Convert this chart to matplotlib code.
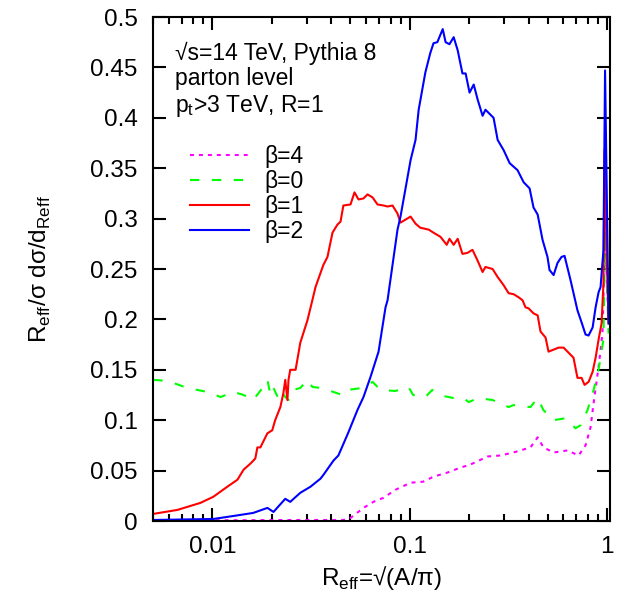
import numpy as np
import matplotlib
matplotlib.use("Agg")
import matplotlib.pyplot as plt
from matplotlib.ticker import FixedLocator, LogLocator, NullFormatter, FuncFormatter

plt.rcParams['font.family'] = ['Liberation Sans', 'DejaVu Sans']

# beta=4 (magenta, dotted)
x_b4 = [0.005, 0.0279, 0.0461, 0.0501, 0.0583, 0.0655, 0.0736, 0.0847, 0.101, 0.117,
        0.132, 0.155, 0.181, 0.203, 0.248, 0.288, 0.336, 0.409, 0.445, 0.476, 0.536,
        0.631, 0.717, 0.778, 0.825, 0.855, 0.906, 0.948, 0.977, 1.018]
y_b4 = [0.0005, 0.001, 0.001, 0.003, 0.013, 0.019, 0.023, 0.031, 0.038, 0.039,
        0.044, 0.048, 0.053, 0.056, 0.064, 0.065, 0.068, 0.073, 0.083, 0.073, 0.068,
        0.070, 0.065, 0.075, 0.093, 0.117, 0.153, 0.186, 0.280, 0.200]

# beta=0 (green, dashed)
x_b0 = [0.00502, 0.00592, 0.00747, 0.00944, 0.0110, 0.0128, 0.0144, 0.0161, 0.0181, 0.0190,
        0.0197, 0.0204, 0.0214, 0.0221, 0.0234, 0.0243, 0.0257, 0.0279, 0.0303, 0.0321,
        0.0353, 0.0383, 0.0456, 0.0483, 0.0575, 0.0648, 0.0711, 0.0847, 0.0986, 0.104,
        0.120, 0.130, 0.148, 0.167, 0.187, 0.199, 0.223, 0.263, 0.317, 0.336,
        0.409, 0.445, 0.476, 0.536, 0.616, 0.692, 0.734, 0.796, 0.855, 0.906,
        0.959, 0.977, 1.018]
y_b0 = [0.140, 0.139, 0.132, 0.128, 0.123, 0.128, 0.125, 0.120, 0.133, 0.140,
        0.125, 0.132, 0.123, 0.130, 0.123, 0.120, 0.130, 0.132, 0.140, 0.133,
        0.132, 0.130, 0.125, 0.130, 0.132, 0.138, 0.130, 0.129, 0.133, 0.125,
        0.123, 0.130, 0.124, 0.122, 0.122, 0.118, 0.122, 0.120, 0.113, 0.115,
        0.113, 0.122, 0.110, 0.100, 0.102, 0.092, 0.095, 0.110, 0.130, 0.150,
        0.180, 0.289, 0.186]

# beta=1 (red, solid)
x_b1 = [0.005, 0.00665, 0.0087, 0.0101, 0.0119, 0.0134, 0.0144, 0.0156, 0.0165, 0.0169,
        0.0175, 0.0190, 0.0201, 0.0208, 0.0221, 0.0229, 0.0234, 0.0240, 0.0243, 0.0248,
        0.0264, 0.0279, 0.0303, 0.0321, 0.0333, 0.0353, 0.0365, 0.0383, 0.0406, 0.0430,
        0.0446, 0.0461, 0.0501, 0.0525, 0.0550, 0.0583, 0.0611, 0.0648, 0.0687, 0.0736,
        0.0772, 0.0818, 0.0867, 0.0898, 0.0952, 0.101, 0.107, 0.113, 0.125, 0.132,
        0.143, 0.154, 0.159, 0.167, 0.175, 0.185, 0.196, 0.208, 0.220, 0.234,
        0.242, 0.263, 0.279, 0.299, 0.317, 0.336, 0.356, 0.373, 0.386, 0.400,
        0.424, 0.445, 0.460, 0.488, 0.505, 0.536, 0.568, 0.602, 0.638, 0.676,
        0.708, 0.743, 0.769, 0.806, 0.845, 0.875, 0.906, 0.938, 0.959, 0.971,
        0.994, 1.018]
y_b1 = [0.007, 0.011, 0.018, 0.024, 0.034, 0.041, 0.051, 0.057, 0.062, 0.073,
        0.073, 0.087, 0.090, 0.100, 0.113, 0.127, 0.140, 0.120, 0.140, 0.150,
        0.150, 0.177, 0.199, 0.219, 0.232, 0.246, 0.254, 0.262, 0.286, 0.294,
        0.297, 0.313, 0.314, 0.326, 0.319, 0.320, 0.324, 0.321, 0.314, 0.313,
        0.312, 0.313, 0.305, 0.296, 0.299, 0.302, 0.295, 0.291, 0.289, 0.286,
        0.282, 0.274, 0.280, 0.274, 0.280, 0.265, 0.266, 0.269, 0.259, 0.247,
        0.252, 0.250, 0.242, 0.234, 0.226, 0.225, 0.222, 0.219, 0.212, 0.211,
        0.206, 0.204, 0.188, 0.182, 0.168, 0.170, 0.172, 0.172, 0.167, 0.162,
        0.142, 0.142, 0.135, 0.138, 0.148, 0.162, 0.180, 0.196, 0.236, 0.368,
        0.269, 0.196]

# beta=2 (blue, solid)
x_b2 = [0.005, 0.0101, 0.0128, 0.0161, 0.0190, 0.0204, 0.0234, 0.0248, 0.0279, 0.0314,
        0.0353, 0.0366, 0.0411, 0.0435, 0.0489, 0.0543, 0.0583, 0.0633, 0.0695, 0.0754,
        0.0772, 0.0867, 0.0898, 0.101, 0.107, 0.111, 0.120, 0.127, 0.132, 0.138,
        0.147, 0.152, 0.159, 0.167, 0.175, 0.185, 0.192, 0.201, 0.211, 0.221,
        0.234, 0.242, 0.266, 0.279, 0.299, 0.321, 0.352, 0.378, 0.405, 0.424,
        0.445, 0.471, 0.499, 0.511, 0.536, 0.561, 0.588, 0.609, 0.653, 0.708,
        0.743, 0.778, 0.806, 0.845, 0.875, 0.906, 0.927, 0.959, 0.977, 1.018]
y_b2 = [0.001, 0.002, 0.005, 0.008, 0.013, 0.009, 0.022, 0.019, 0.028, 0.034,
        0.042, 0.046, 0.060, 0.065, 0.088, 0.110, 0.123, 0.143, 0.168, 0.212,
        0.219, 0.289, 0.302, 0.358, 0.378, 0.408, 0.445, 0.464, 0.474, 0.475,
        0.488, 0.475, 0.473, 0.480, 0.467, 0.444, 0.444, 0.425, 0.433, 0.418,
        0.402, 0.408, 0.400, 0.378, 0.368, 0.355, 0.348, 0.336, 0.330, 0.311,
        0.304, 0.279, 0.262, 0.249, 0.244, 0.256, 0.262, 0.263, 0.239, 0.209,
        0.197, 0.185, 0.184, 0.192, 0.212, 0.227, 0.232, 0.269, 0.447, 0.196]

y_ticks = [0, 0.05, 0.1, 0.15, 0.2, 0.25, 0.3, 0.35, 0.4, 0.45, 0.5]
x_ticks = [0.01, 0.1, 1]

fig = plt.figure(figsize=(6.23, 5.97), dpi=100)
ax = fig.add_axes([153 / 623, 76 / 597, 457 / 623, 504 / 597])

lw = 1.5
ax.plot(x_b4, y_b4, color='#ff00ff', lw=lw, dashes=(1.9, 2.4), label=r'β=4')
ax.plot(x_b0, y_b0, color='#00ff00', lw=lw, dashes=(4.5, 6.0), label=r'β=0')
ax.plot(x_b1, y_b1, color='#ff0000', lw=lw, label=r'β=1')
ax.plot(x_b2, y_b2, color='#0000ff', lw=lw, label=r'β=2')

ax.set_xscale('log')
ax.set_xlim(0.005, 1.035)
ax.set_ylim(0, 0.5)

ax.xaxis.set_major_locator(FixedLocator(x_ticks))
ax.xaxis.set_major_formatter(FuncFormatter(lambda v, p: '%g' % v))
ax.xaxis.set_minor_locator(LogLocator(base=10, subs=np.arange(2, 10)))
ax.xaxis.set_minor_formatter(NullFormatter())
ax.yaxis.set_major_locator(FixedLocator(y_ticks))
ax.yaxis.set_major_formatter(FuncFormatter(lambda v, p: '%g' % v))

ax.tick_params(which='both', direction='in', top=True, right=True, width=1.5, labelsize=17.5)
ax.tick_params(which='major', length=9.5)
ax.tick_params(which='minor', length=5)
ax.tick_params(axis='y', pad=11)
ax.tick_params(axis='x', pad=11)
for s in ax.spines.values():
    s.set_linewidth(1.5)

ax.set_xlabel(r'R$_{\mathregular{eff}}$=√(A/π)', fontsize=17.5, labelpad=4)
ax.set_ylabel(r'R$_{\mathregular{eff}}$/σ dσ/d$_{\mathregular{Reff}}$', fontsize=17.5, labelpad=27)

ax.text(0.048, 0.915, '√s=14 TeV, Pythia 8', transform=ax.transAxes, fontsize=16.5)
ax.text(0.048, 0.866, 'parton level', transform=ax.transAxes, fontsize=16.5)
ax.text(0.048, 0.8115, r'p$_{\mathregular{t}}$>3 TeV, R=1', transform=ax.transAxes, fontsize=16.5)

ax.legend(loc='upper left', bbox_to_anchor=(0.081, 0.746), frameon=False, fontsize=16.5,
          handlelength=2.58, handletextpad=0.65, labelspacing=0.09, borderpad=0, borderaxespad=0)

fig.savefig('out.png', dpi=100)
